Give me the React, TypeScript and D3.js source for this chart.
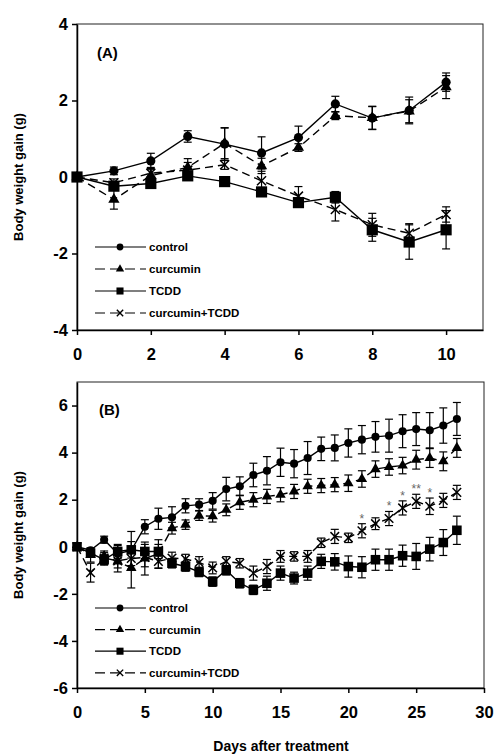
import React, { useRef, useEffect } from 'react'
import * as d3 from 'd3'

const FONT = '"Liberation Sans", Arial, Helvetica, sans-serif'

// panel A (days 0-10)
const daysA = [0, 1, 2, 3, 4, 5, 6, 7, 8, 9, 10]
const controlA = [0, 0.16, 0.42, 1.06, 0.86, 0.63, 1.03, 1.91, 1.54, 1.74, 2.48]
const controlAErr = [0, 0.1, 0.2, 0.15, 0.43, 0.42, 0.3, 0.2, 0.3, 0.35, 0.24]
const curcuminA = [0, -0.59, 0.04, 0.25, 0.88, 0.29, 0.77, 1.6, 1.55, 1.72, 2.35]
const curcuminAErr = [0, 0.25, 0.15, 0.23, 0.4, 0.2, 0.1, 0.1, 0.3, 0.3, 0.3]
const tcddA = [0, -0.24, -0.17, 0.03, -0.12, -0.39, -0.67, -0.53, -1.38, -1.7, -1.38]
const tcddAErr = [0, 0.1, 0.1, 0.1, 0.05, 0.1, 0.12, 0.15, 0.3, 0.45, 0.5]
const crossA = [0, -0.15, 0.1, 0.18, 0.32, -0.1, -0.5, -0.85, -1.25, -1.47, -0.98]
const crossAErr = [0, 0.1, 0.15, 0.2, 0.12, 0.25, 0.25, 0.3, 0.3, 0.25, 0.2]

// panel B (days 0-28)
const daysB = [0, 1, 2, 3, 4, 5, 6, 7, 8, 9, 10, 11, 12, 13, 14, 15, 16, 17, 18, 19, 20, 21, 22, 23, 24, 25, 26, 27, 28]
const controlB = [0, -0.15, 0.3, -0.3, -0.15, 0.85, 1.19, 1.25, 1.74, 1.79, 1.95, 2.45, 2.57, 3.05, 3.23, 3.59, 3.53, 3.77, 4.16, 4.2, 4.41, 4.55, 4.67, 4.72, 4.91, 5.0, 4.95, 5.15, 5.43]
const controlBErr = [0, 0.1, 0.15, 0.35, 0.8, 0.3, 0.45, 0.45, 0.3, 0.25, 0.35, 0.5, 0.4, 0.5, 0.6, 0.6, 0.6, 0.7, 0.5, 0.55, 0.6, 0.6, 0.65, 0.7, 0.7, 0.7, 0.75, 0.75, 0.7]
const curcuminB = [0, -0.35, -0.4, -0.62, -0.9, -0.5, -0.3, 0.79, 0.94, 1.32, 1.3, 1.57, 1.89, 2.0, 2.14, 2.21, 2.35, 2.57, 2.6, 2.64, 2.7, 2.88, 3.3, 3.39, 3.45, 3.7, 3.77, 3.63, 4.2]
const curcuminBErr = [0, 0.3, 0.15, 0.45, 0.85, 0.7, 0.6, 0.25, 0.2, 0.2, 0.25, 0.25, 0.3, 0.3, 0.3, 0.3, 0.3, 0.3, 0.3, 0.3, 0.35, 0.35, 0.35, 0.35, 0.35, 0.4, 0.4, 0.4, 0.4]
const tcddB = [0, -0.27, -0.55, -0.2, -0.13, -0.2, -0.2, -0.7, -0.84, -1.07, -1.48, -1.0, -1.55, -1.83, -1.55, -1.12, -1.33, -1.12, -0.62, -0.64, -0.84, -0.87, -0.55, -0.55, -0.38, -0.41, -0.1, 0.18, 0.7]
const tcddBErr = [0, 0.15, 0.2, 0.3, 0.35, 0.3, 0.3, 0.2, 0.2, 0.2, 0.2, 0.2, 0.2, 0.2, 0.3, 0.3, 0.25, 0.3, 0.3, 0.35, 0.45, 0.45, 0.45, 0.45, 0.45, 0.55, 0.5, 0.55, 0.6]
const crossB = [0, -1.1, -0.48, -0.6, -0.5, -0.45, -0.62, -0.48, -0.52, -0.67, -0.9, -0.62, -0.7, -1.12, -0.84, -0.41, -0.41, -0.41, 0.17, 0.44, 0.38, 0.68, 0.98, 1.2, 1.65, 1.93, 1.72, 1.97, 2.31]
const crossBErr = [0, 0.4, 0.3, 0.3, 0.3, 0.4, 0.3, 0.25, 0.2, 0.25, 0.25, 0.2, 0.2, 0.3, 0.3, 0.25, 0.2, 0.25, 0.2, 0.3, 0.2, 0.3, 0.25, 0.3, 0.3, 0.3, 0.35, 0.3, 0.3]

// significance marks over curcumin+TCDD
const starDays = [21, 23, 24, 25, 26]
const starText = ['*', '*', '*', '**', '*']

const legendNames = ['control', 'curcumin', 'TCDD', 'curcumin+TCDD']
const legendSizes = [36, 30, 50, 28]
const ticksA = { x: [0, 2, 4, 6, 8, 10], y: [-4, -2, 0, 2, 4] }
const ticksB = { x: [0, 5, 10, 15, 20, 25, 30], y: [-6, -4, -2, 0, 2, 4, 6] }

const symbolFor = (kind, size) => {
  if (kind === 'x') return d3.symbol().type(d3.symbolX).size(size)()
  const t = kind === 'circle' ? d3.symbolCircle : kind === 'triangle' ? d3.symbolTriangle : d3.symbolSquare
  return d3.symbol().type(t).size(size)()
}

const drawPanel = (svg, p) => {
  const { left, right, top, bottom } = p
  const x = d3.scaleLinear().domain(p.xDomain).range([left, right])
  const y = d3.scaleLinear().domain(p.yDomain).range([bottom, top])
  const g = svg.append('g')

  g.append('rect')
    .attr('x', left).attr('y', top)
    .attr('width', right - left).attr('height', bottom - top)
    .attr('fill', 'none').attr('stroke', '#222').attr('stroke-width', 1)

  const styleAxis = a => a
    .attr('font-family', FONT).attr('font-size', 16.5).attr('font-weight', 'bold')
    .call(s => s.selectAll('path,line').attr('stroke', '#000').attr('stroke-width', 1.5))

  g.append('g')
    .attr('transform', `translate(0,${bottom})`)
    .call(d3.axisBottom(x).tickValues(p.xTicks).tickSize(5).tickPadding(13).tickSizeOuter(0).tickFormat(d3.format('d')))
    .call(styleAxis)
  g.append('g')
    .attr('transform', `translate(${left},0)`)
    .call(d3.axisLeft(y).tickValues(p.yTicks).tickSize(5).tickPadding(4).tickSizeOuter(0).tickFormat(d => d3.format('d')(d).replace('−', '-')))
    .call(styleAxis)

  g.append('text')
    .attr('transform', `translate(23,${(top + bottom) / 2}) rotate(-90)`)
    .attr('text-anchor', 'middle')
    .attr('font-family', FONT).attr('font-size', 13).attr('font-weight', 'bold')
    .text('Body weight gain (g)')

  g.append('text')
    .attr('x', left + p.labelDx).attr('y', top + p.labelDy)
    .attr('font-family', FONT).attr('font-size', 15).attr('font-weight', 'bold')
    .text(p.label)

  // draw order: cross, curcumin, control, TCDD
  const order = [3, 1, 0, 2]
  order.forEach(i => {
    const s = p.series[i]
    const pts = p.days.map((d, k) => ({ d, v: s.values[k], e: s.errors[k] }))
    const line = d3.line().x(q => x(q.d)).y(q => y(q.v))
    g.append('path')
      .datum(pts)
      .attr('fill', 'none').attr('stroke', '#000').attr('stroke-width', 1.4)
      .attr('stroke-dasharray', s.dashed ? '8,5' : null)
      .attr('d', line)
    const eb = g.append('g').attr('stroke', '#000').attr('stroke-width', 1.2)
    pts.filter(q => q.e > 0).forEach(q => {
      const cx = x(q.d)
      eb.append('line').attr('x1', cx).attr('x2', cx).attr('y1', y(q.v - q.e)).attr('y2', y(q.v + q.e))
      eb.append('line').attr('x1', cx - 4).attr('x2', cx + 4).attr('y1', y(q.v - q.e)).attr('y2', y(q.v - q.e))
      eb.append('line').attr('x1', cx - 4).attr('x2', cx + 4).attr('y1', y(q.v + q.e)).attr('y2', y(q.v + q.e))
    })
    g.append('g').selectAll('path').data(pts).join('path')
      .attr('transform', q => `translate(${x(q.d)},${y(q.v)})`)
      .attr('d', symbolFor(s.kind, s.size))
      .attr('fill', s.kind === 'x' ? 'none' : '#000')
      .attr('stroke', '#000').attr('stroke-width', s.kind === 'x' ? 1.5 : 0)
  })

  if (p.stars) {
    const cross = p.series[3]
    p.stars.days.forEach((d, k) => {
      const idx = p.days.indexOf(d)
      g.append('text')
        .attr('x', x(d)).attr('y', y(cross.values[idx] + cross.errors[idx]) - 1)
        .attr('text-anchor', 'middle')
        .attr('font-family', FONT).attr('font-size', 12).attr('fill', '#666')
        .text(p.stars.text[k])
    })
  }

  // legend
  p.series.forEach((s, i) => {
    const ly = p.legendY + i * p.legendStep
    const lg = g.append('g')
    lg.append('line')
      .attr('x1', left + 18).attr('x2', left + 69).attr('y1', ly).attr('y2', ly)
      .attr('stroke', '#000').attr('stroke-width', 1.2)
      .attr('stroke-dasharray', s.dashed ? '10,5' : null)
    lg.append('path')
      .attr('transform', `translate(${left + 43},${ly})`)
      .attr('d', symbolFor(s.kind, legendSizes[i]))
      .attr('fill', s.kind === 'x' ? 'none' : '#000')
      .attr('stroke', '#000').attr('stroke-width', s.kind === 'x' ? 1.4 : 0)
    lg.append('text')
      .attr('x', left + 72).attr('y', ly).attr('dy', '0.36em')
      .attr('font-family', FONT).attr('font-size', 11.5).attr('font-weight', 'bold')
      .text(legendNames[i])
  })
}

const makeSeries = (vals, sizes) => [
  { values: vals[0], errors: vals[1], kind: 'circle', size: sizes[0], dashed: false },
  { values: vals[2], errors: vals[3], kind: 'triangle', size: sizes[1], dashed: true },
  { values: vals[4], errors: vals[5], kind: 'square', size: sizes[2], dashed: false },
  { values: vals[6], errors: vals[7], kind: 'x', size: sizes[3], dashed: true },
]

const App = () => {
  const svgRef = useRef(null)

  useEffect(() => {
    const svg = d3.select(svgRef.current)
    svg.selectAll('*').remove()

    drawPanel(svg, {
      left: 77, right: 483, top: 24, bottom: 330,
      xDomain: [0, 11], yDomain: [-4, 4],
      xTicks: ticksA.x, yTicks: ticksA.y,
      days: daysA,
      series: makeSeries([controlA, controlAErr, curcuminA, curcuminAErr, tcddA, tcddAErr, crossA, crossAErr], [66, 55, 125, 55]),
      label: '(A)', labelDx: 20, labelDy: 34,
      legendY: 247, legendStep: 22,
    })

    drawPanel(svg, {
      left: 77, right: 484, top: 382, bottom: 688,
      xDomain: [0, 30], yDomain: [-6, 7],
      xTicks: ticksB.x, yTicks: ticksB.y,
      days: daysB,
      series: makeSeries([controlB, controlBErr, curcuminB, curcuminBErr, tcddB, tcddBErr, crossB, crossBErr], [52, 48, 92, 50]),
      label: '(B)', labelDx: 22, labelDy: 33,
      legendY: 608, legendStep: 21.6,
      stars: { days: starDays, text: starText },
    })

    svg.append('text')
      .attr('x', 281).attr('y', 751)
      .attr('text-anchor', 'middle')
      .attr('font-family', FONT).attr('font-size', 14).attr('font-weight', 'bold')
      .text('Days after treatment')
  }, [])

  return (
    <svg ref={svgRef} width={496} height={754}
      style={{ position: 'absolute', left: 0, top: 0, background: '#fff' }} />
  )
}

export default App
